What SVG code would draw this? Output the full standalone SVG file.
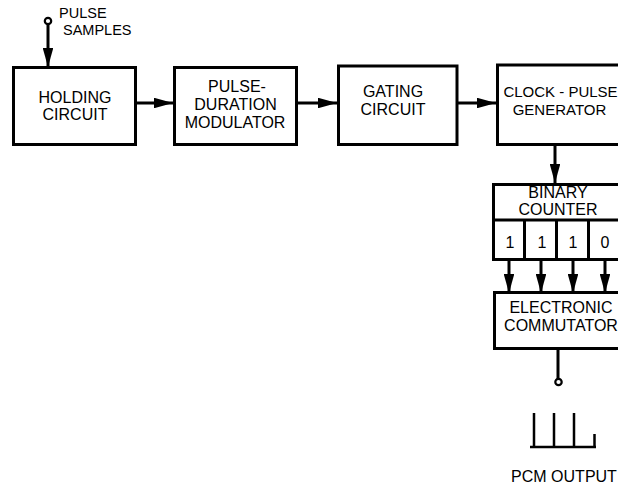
<svg xmlns="http://www.w3.org/2000/svg" width="618" height="484" viewBox="0 0 618 484">
<style>
.box{fill:#fff;stroke:#000;stroke-width:3}
.ln{fill:none;stroke:#000;stroke-width:3}
.t{font-family:"Liberation Sans",Arial,sans-serif;font-size:16px;fill:#000;text-anchor:middle}
.lbl{font-family:"Liberation Sans",Arial,sans-serif;font-size:14.5px;fill:#000}
</style>
<defs>
<marker id="ah" markerWidth="6.5" markerHeight="3.6" refX="6.5" refY="1.8" orient="auto" markerUnits="strokeWidth">
<path d="M0,0 L6.5,1.8 L0,3.6 Z" fill="#000"/>
</marker>
</defs>
<rect width="618" height="484" fill="#fff"/>
<g id="connectors">
<line class="ln" x1="48" y1="25" x2="48" y2="67" marker-end="url(#ah)"/>
<line class="ln" x1="136" y1="103" x2="173" y2="103" marker-end="url(#ah)"/>
<line class="ln" x1="297" y1="103" x2="337" y2="103" marker-end="url(#ah)"/>
<line class="ln" x1="457" y1="103" x2="496" y2="103" marker-end="url(#ah)"/>
<line class="ln" x1="555" y1="145" x2="555" y2="183" marker-end="url(#ah)"/>
<line class="ln" x1="509" y1="260" x2="509" y2="293" marker-end="url(#ah)"/>
<line class="ln" x1="541" y1="260" x2="541" y2="293" marker-end="url(#ah)"/>
<line class="ln" x1="573" y1="260" x2="573" y2="293" marker-end="url(#ah)"/>
<line class="ln" x1="605" y1="260" x2="605" y2="293" marker-end="url(#ah)"/>
<line class="ln" x1="558" y1="349" x2="558" y2="379"/>
</g>
<g id="input">
<circle cx="48" cy="21" r="3.2" fill="#fff" stroke="#000" stroke-width="2.2"/>
<text class="lbl" x="59" y="17.5">PULSE</text>
<text class="lbl" x="63" y="35">SAMPLES</text>
</g>
<g id="holding">
<rect class="box" x="13.5" y="67.5" width="122" height="77"/>
<text class="t" x="75" y="102.7">HOLDING</text>
<text class="t" x="75" y="120">CIRCUIT</text>
</g>
<g id="pdm">
<rect class="box" x="174.5" y="67.5" width="122" height="77"/>
<text class="t" x="237" y="92">PULSE-</text>
<text class="t" x="235.5" y="110">DURATION</text>
<text class="t" x="235" y="128.3">MODULATOR</text>
</g>
<g id="gating">
<rect class="box" x="338.5" y="66" width="118.5" height="78.5"/>
<text class="t" x="393" y="97">GATING</text>
<text class="t" x="393" y="115">CIRCUIT</text>
</g>
<g id="clock">
<rect class="box" x="497.5" y="65" width="130" height="79.5"/>
<text class="t" x="560.5" y="97" style="font-size:15px">CLOCK - PULSE</text>
<text class="t" x="559.5" y="115" style="font-size:15px">GENERATOR</text>
</g>
<g id="counter">
<rect class="box" x="493.5" y="184.5" width="135" height="75"/>
<line class="ln" x1="493.5" y1="220" x2="628" y2="220"/>
<line class="ln" x1="524.5" y1="220" x2="524.5" y2="259.5"/>
<line class="ln" x1="556.5" y1="220" x2="556.5" y2="259.5"/>
<line class="ln" x1="588.5" y1="220" x2="588.5" y2="259.5"/>
<text class="t" x="558" y="198">BINARY</text>
<text class="t" x="558" y="214.5">COUNTER</text>
<text class="t" x="510" y="248">1</text>
<text class="t" x="542" y="248">1</text>
<text class="t" x="573" y="248">1</text>
<text class="t" x="605" y="248">0</text>
</g>
<g id="commutator">
<rect class="box" x="494.5" y="292.5" width="135" height="56"/>
<text class="t" x="561" y="313.3">ELECTRONIC</text>
<text class="t" x="561" y="330.7">COMMUTATOR</text>
</g>
<g id="output">
<circle cx="558.5" cy="382" r="3.2" fill="#fff" stroke="#000" stroke-width="2.2"/>
<path d="M530,447 L596,447 M534,447 L534,413 M554,447 L554,413 M574,447 L574,413 M594.5,447 L594.5,434" fill="none" stroke="#000" stroke-width="2.5"/>
<text class="t" x="564" y="482">PCM OUTPUT</text>
</g>
</svg>
